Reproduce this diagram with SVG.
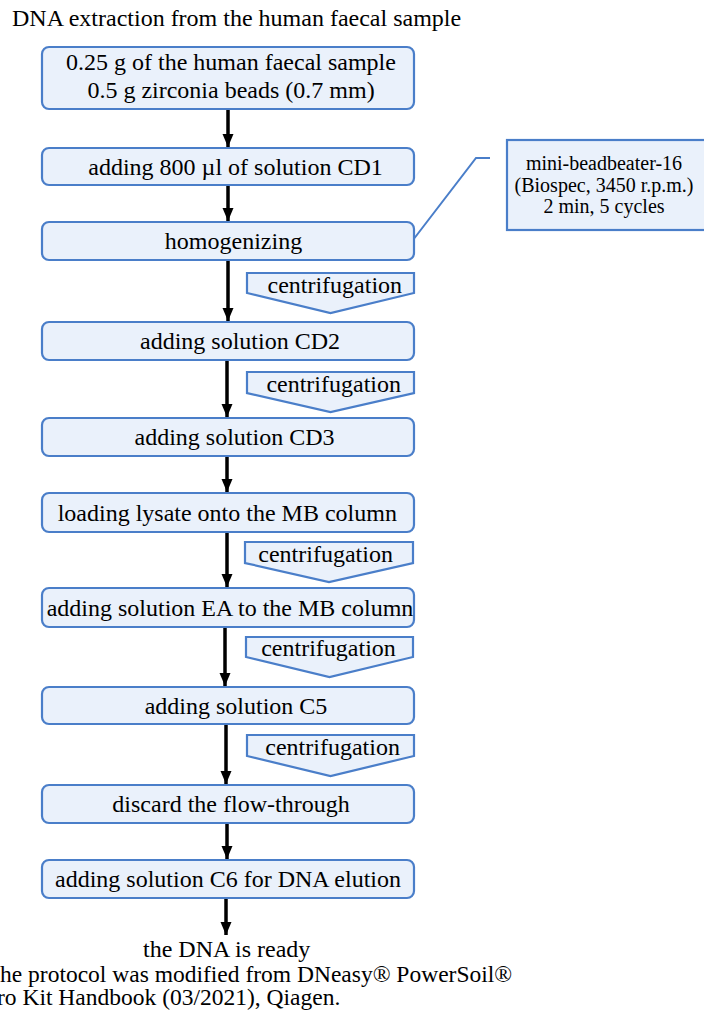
<svg xmlns="http://www.w3.org/2000/svg" width="704" height="1020" viewBox="0 0 704 1020">
<style>
text{font-family:"Liberation Serif","Times New Roman",serif;fill:#000}
.t{font-size:24px;text-anchor:middle}
.c{font-size:20px;text-anchor:middle}
.f{font-size:23.5px}
.box{fill:#eaf1fb;stroke:#4a7ec9;stroke-width:2.2}
.ar{stroke:#000;stroke-width:3.5;fill:none;marker-end:url(#ah)}
.cl{stroke:#4a7ec9;stroke-width:2;fill:none}
</style>
<defs>
<marker id="ah" markerUnits="userSpaceOnUse" markerWidth="14" markerHeight="14" viewBox="0 0 14 14" refX="13" refY="7" orient="auto">
<path d="M0,1.5 L13,7 L0,12.5 Z" fill="#000"/>
</marker>
</defs>
<text x="12" y="26" style="font-size:24px">DNA extraction from the human faecal sample</text>
<g id="connectors">
<line class="ar" x1="228" y1="110" x2="228" y2="147"/>
<line class="ar" x1="228" y1="185" x2="228" y2="221"/>
<line class="ar" x1="228" y1="260" x2="228" y2="321"/>
<line class="ar" x1="227" y1="360" x2="227" y2="417"/>
<line class="ar" x1="227" y1="456" x2="227" y2="492"/>
<line class="ar" x1="227" y1="532" x2="227" y2="587"/>
<line class="ar" x1="225" y1="627" x2="225" y2="686"/>
<line class="ar" x1="226" y1="724" x2="226" y2="784"/>
<line class="ar" x1="227" y1="823" x2="227" y2="859"/>
<line class="ar" x1="226" y1="898" x2="226" y2="935"/>
<polyline class="cl" points="413,240 476,158 490,158"/>
</g>
<g id="n1"><rect class="box" x="42" y="47" width="372" height="62" rx="7"/>
<text class="t" x="231" y="69.5">0.25 g of the human faecal sample</text>
<text class="t" x="231" y="97.5">0.5 g zirconia beads (0.7 mm)</text></g>
<g id="n2"><rect class="box" x="42" y="148" width="372" height="37" rx="7"/>
<text class="t" x="235.5" y="175">adding 800 µl of solution CD1</text></g>
<g id="n3"><rect class="box" x="42" y="222" width="372" height="38" rx="7"/>
<text class="t" x="233.5" y="249">homogenizing</text></g>
<g id="callout"><rect class="box" x="507" y="140" width="210" height="90"/>
<text class="c" x="604" y="170">mini-beadbeater-16</text>
<text class="c" x="604" y="191.5">(Biospec, 3450 r.p.m.)</text>
<text class="c" x="604" y="213">2 min, 5 cycles</text></g>
<g id="c1"><polygon class="box" points="247,273 414,273 414,293 330.5,313 247,293"/>
<text class="t" x="334.8" y="293">centrifugation</text></g>
<g id="n4"><rect class="box" x="42" y="322" width="372" height="38" rx="7"/>
<text class="t" x="240" y="349">adding solution CD2</text></g>
<g id="c2"><polygon class="box" points="247,372 414,372 414,393 330.5,412 247,393"/>
<text class="t" x="333.7" y="392">centrifugation</text></g>
<g id="n5"><rect class="box" x="42" y="418" width="372" height="38" rx="7"/>
<text class="t" x="234.5" y="445">adding solution CD3</text></g>
<g id="n6"><rect class="box" x="42" y="493" width="372" height="39" rx="7"/>
<text class="t" x="227.3" y="520.5">loading lysate onto the MB column</text></g>
<g id="c3"><polygon class="box" points="245,542 413,542 413,563 329,582 245,563"/>
<text class="t" x="325.6" y="562">centrifugation</text></g>
<g id="n7"><rect class="box" x="42" y="588" width="372" height="39" rx="7"/>
<text class="t" x="230" y="615.5">adding solution EA to the MB column</text></g>
<g id="c4"><polygon class="box" points="246,637 413,637 413,657 329.5,677 246,657"/>
<text class="t" x="328.5" y="656">centrifugation</text></g>
<g id="n8"><rect class="box" x="42" y="687" width="372" height="37" rx="7"/>
<text class="t" x="236" y="713.5">adding solution C5</text></g>
<g id="c5"><polygon class="box" points="247,735 414,735 414,756 330.5,776 247,756"/>
<text class="t" x="332.6" y="755">centrifugation</text></g>
<g id="n9"><rect class="box" x="42" y="785" width="372" height="38" rx="7"/>
<text class="t" x="231" y="812">discard the flow-through</text></g>
<g id="n10"><rect class="box" x="42" y="860" width="372" height="38" rx="7"/>
<text class="t" x="228" y="887">adding solution C6 for DNA elution</text></g>
<text class="t" x="226.7" y="957">the DNA is ready</text>
<text class="f" x="0" y="982">he protocol was modified from DNeasy® PowerSoil®</text>
<text class="f" x="-3" y="1005">ro Kit Handbook (03/2021), Qiagen.</text>
</svg>
